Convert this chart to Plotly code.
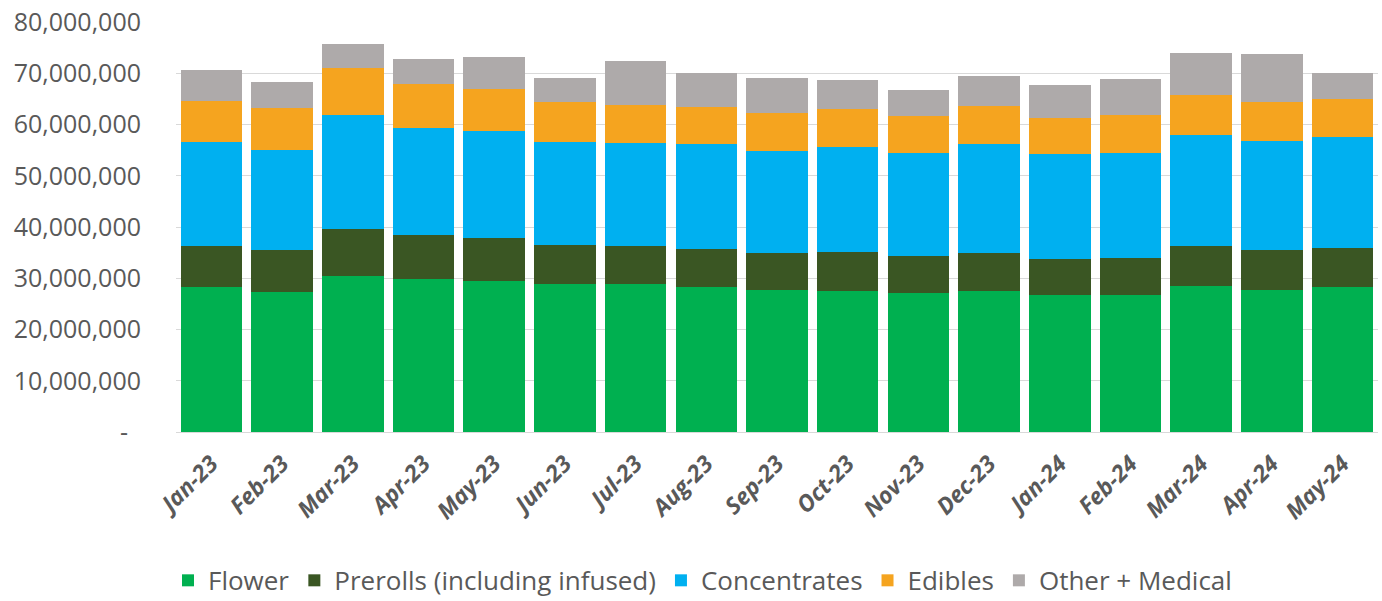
import plotly.graph_objects as go

months = ["Jan-23", "Feb-23", "Mar-23", "Apr-23", "May-23", "Jun-23", "Jul-23", "Aug-23",
          "Sep-23", "Oct-23", "Nov-23", "Dec-23", "Jan-24", "Feb-24", "Mar-24", "Apr-24", "May-24"]

flower = [28.2, 27.3, 30.5, 29.9, 29.4, 28.8, 28.8, 28.2, 27.7, 27.6, 27.1, 27.5, 26.8, 26.8, 28.4, 27.8, 28.3]
prerolls = [8.0, 8.2, 9.1, 8.6, 8.4, 7.6, 7.4, 7.5, 7.3, 7.6, 7.2, 7.5, 7.0, 7.2, 7.9, 7.8, 7.6]
concentrates = [20.4, 19.6, 22.2, 20.9, 21.0, 20.2, 20.1, 20.4, 19.9, 20.4, 20.1, 21.1, 20.4, 20.5, 21.7, 21.1, 21.6]
edibles = [8.0, 8.1, 9.2, 8.6, 8.2, 7.7, 7.5, 7.4, 7.4, 7.5, 7.2, 7.5, 7.1, 7.4, 7.8, 7.7, 7.5]
other_medical = [6.1, 5.1, 4.7, 4.7, 6.2, 4.8, 8.5, 6.5, 6.8, 5.6, 5.1, 5.9, 6.4, 6.9, 8.1, 9.4, 5.0]

tick_vals = [0, 10_000_000, 20_000_000, 30_000_000, 40_000_000, 50_000_000, 60_000_000, 70_000_000, 80_000_000]
tick_text = ["-\u00a0\u00a0", "10,000,000", "20,000,000", "30,000,000", "40,000,000",
             "50,000,000", "60,000,000", "70,000,000", "80,000,000"]

series = [
    ("Flower", flower, "#00B050"),
    ("Prerolls (including infused)", prerolls, "#3A5623"),
    ("Concentrates", concentrates, "#00B0F0"),
    ("Edibles", edibles, "#F5A41F"),
    ("Other + Medical", other_medical, "#AEAAAA"),
]

fig = go.Figure()
for name, vals, color in series:
    fig.add_trace(go.Bar(
        x=months,
        y=[v * 1_000_000 for v in vals],
        name=name,
        marker=dict(color=color, line=dict(width=0)),
    ))

fig.update_layout(
    barmode="stack",
    bargap=0.13,
    width=1382,
    height=601,
    margin=dict(l=176, r=4, t=22, b=169, autoexpand=False),
    paper_bgcolor="white",
    plot_bgcolor="white",
    font=dict(family="Open Sans, sans-serif", color="#595959"),
    legend=dict(
        orientation="h",
        x=0.438,
        xanchor="center",
        y=-0.362,
        yanchor="middle",
        font=dict(size=26, color="#595959"),
        traceorder="normal",
        itemclick=False,
        itemwidth=30,
    ),
    xaxis=dict(
        tickangle=-45,
        tickfont=dict(size=23, color="#595959", weight="bold", style="italic"),
        showgrid=False,
        showline=True,
        linecolor="#D9D9D9",
        linewidth=1,
        ticks="",
        ticklabelstandoff=8,
        automargin=False,
    ),
    yaxis=dict(
        range=[0, 80_000_000],
        tickvals=tick_vals,
        ticktext=tick_text,
        tickfont=dict(size=25, color="#595959"),
        showgrid=True,
        gridcolor="#D9D9D9",
        gridwidth=1,
        zeroline=False,
        showline=False,
        ticks="",
        ticklabelstandoff=34,
        automargin=False,
    ),
)

fig.write_html("out.html")
